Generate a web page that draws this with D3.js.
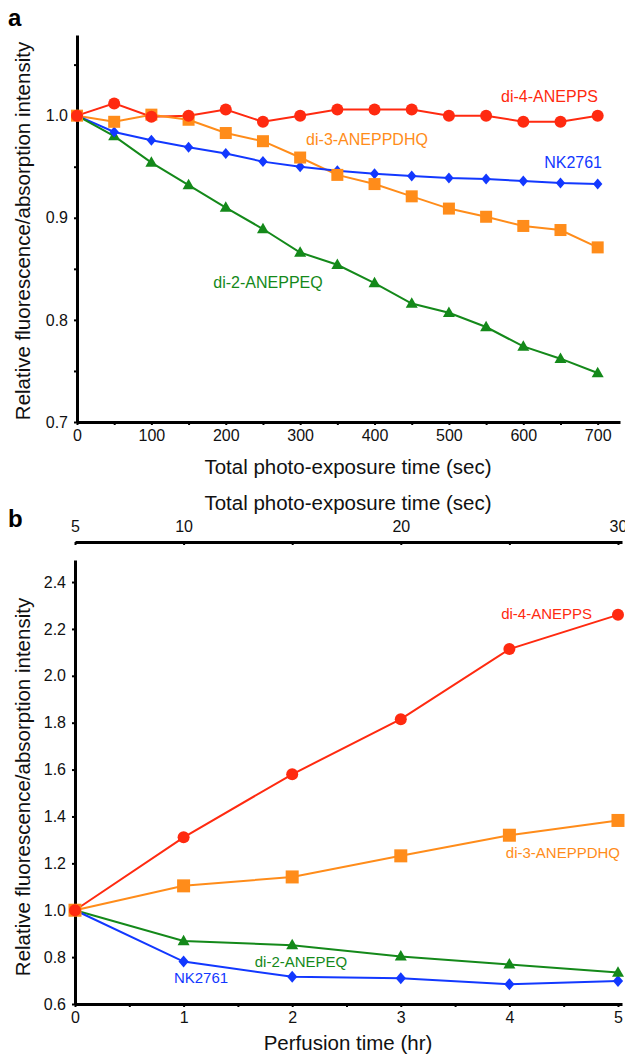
<!DOCTYPE html>
<html><head><meta charset="utf-8">
<script src="https://cdn.jsdelivr.net/npm/d3@7"></script>
<style>
body{margin:0;background:#fff;}
svg{display:block;font-family:"Liberation Sans",Arial,Helvetica,sans-serif;}
</style></head>
<body><svg id="c" width="625" height="1056"></svg>
<script>
// ---- Panel a data ----
const timeA = [0,50,100,150,200,250,300,350,400,450,500,550,600,650,700];
const a_di4 = [1.000,1.012,0.999,1.000,1.006,0.994,1.000,1.006,1.006,1.006,1.000,1.000,0.994,0.994,1.000];
const a_di3 = [1.000,0.994,1.001,0.996,0.983,0.975,0.959,0.942,0.933,0.921,0.909,0.901,0.892,0.888,0.871];
const a_nk  = [1.000,0.984,0.976,0.969,0.963,0.955,0.950,0.946,0.943,0.941,0.939,0.938,0.936,0.934,0.933];
const a_di2 = [1.000,0.980,0.954,0.932,0.910,0.889,0.866,0.854,0.836,0.816,0.807,0.793,0.774,0.762,0.748];
const aYTicks = [0.7,0.8,0.9,1.0];
const aXTicks = [0,100,200,300,400,500,600,700];

// ---- Panel b data ----
const timeB = [0,1,2,3,4,5];
const b_di4 = [1.000,1.311,1.580,1.815,2.114,2.260];
const b_di3 = [1.000,1.104,1.142,1.232,1.320,1.383];
const b_di2 = [1.000,0.869,0.851,0.803,0.769,0.734];
const b_nk  = [1.000,0.781,0.716,0.710,0.684,0.698];
const bYTicks = [0.6,0.8,1.0,1.2,1.4,1.6,1.8,2.0,2.2,2.4];
const bXTicks = [0,1,2,3,4,5];
const bTopTicks = [5,10,20,30];

const C = {red:"#ff2a10", orange:"#ff8c1a", blue:"#1238ff", green:"#14891a"};
const svg = d3.select("#c");

function styleAxis(g){
  g.select(".domain").attr("stroke","#000").attr("stroke-width",3);
  g.selectAll(".tick line").attr("stroke","#000").attr("stroke-width",2);
  g.selectAll(".tick text").attr("fill","#111").style("font-size","16px").style("font-family","'Liberation Sans',Arial,sans-serif");
}

function markers(g, pts, type, color, size){
  const sel = g.selectAll(null).data(pts).enter();
  if(type==="circle"){
    sel.append("circle").attr("cx",d=>d[0]).attr("cy",d=>d[1]).attr("r",size).attr("fill",color);
  } else if(type==="square"){
    sel.append("rect").attr("x",d=>d[0]-size).attr("y",d=>d[1]-size).attr("width",2*size).attr("height",2*size).attr("fill",color);
  } else if(type==="diamond"){
    sel.append("path").attr("d",d=>`M${d[0]},${d[1]-size}L${d[0]+size*0.85},${d[1]}L${d[0]},${d[1]+size}L${d[0]-size*0.85},${d[1]}Z`).attr("fill",color);
  } else if(type==="triangle"){
    sel.append("path").attr("d",d=>`M${d[0]},${d[1]-size*1.05}L${d[0]+size},${d[1]+size*0.7}L${d[0]-size},${d[1]+size*0.7}Z`).attr("fill",color);
  }
}

function series(g, xs, ys, x, y, color){
  const pts = xs.map((v,i)=>[x(v), y(ys[i])]);
  g.append("path").attr("d", d3.line()(pts)).attr("fill","none").attr("stroke",color).attr("stroke-width",2);
  return pts;
}

// ================= Panel a =================
{
  const x = d3.scaleLinear().domain([0,730]).range([77,620]);
  const y = d3.scaleLinear().domain([0.7,1.079]).range([422,35]);
  const g = svg.append("g");

  const yAx = g.append("g").attr("transform","translate(77,0)")
    .call(d3.axisLeft(y).tickValues(d3.range(0.7,1.0751,0.05)).tickSize(3).tickSizeOuter(0)
      .tickFormat(d=> aYTicks.some(t=>Math.abs(t-d)<1e-6) ? d3.format(".1f")(d) : ""));
  styleAxis(yAx); yAx.selectAll(".tick text").attr("x",-9);
  const xAx = g.append("g").attr("transform","translate(0,422)")
    .call(d3.axisBottom(x).tickValues(d3.range(0,701,50)).tickSize(3).tickSizeOuter(0)
      .tickFormat(d=> aXTicks.includes(d) ? d : ""));
  styleAxis(xAx); xAx.selectAll(".tick text").attr("y",8);

  const sets = [[a_di4,C.red,"circle",6],[a_di3,C.orange,"square",6],[a_nk,C.blue,"diamond",5.5],[a_di2,C.green,"triangle",6]];
  const allPts = sets.map(s=>series(g,timeA,s[0],x,y,s[1]));
  for(let i=sets.length-1;i>=0;i--) markers(g, allPts[i], sets[i][2], sets[i][1], sets[i][3]);

  const lab = (t,xx,yy,c,anchor)=>g.append("text").attr("x",xx).attr("y",yy).attr("fill",c).attr("text-anchor",anchor||"start").style("font-size","16px").text(t);
  lab("di-4-ANEPPS",598,102,C.red,"end");
  lab("di-3-ANEPPDHQ",367,145,C.orange,"middle");
  lab("NK2761",602,168,C.blue,"end");
  lab("di-2-ANEPPEQ",268,288,C.green,"middle");

  g.append("text").attr("x",348).attr("y",474).attr("text-anchor","middle").style("font-size","20.5px").attr("fill","#111").text("Total photo-exposure time (sec)");
  g.append("text").attr("transform","translate(30,231) rotate(-90)").attr("text-anchor","middle").style("font-size","20.5px").attr("fill","#111").text("Relative fluorescence/absorption intensity");
  g.append("text").attr("x",8).attr("y",26).style("font-size","24px").style("font-weight","bold").text("a");
}

// ================= Panel b =================
{
  const x = d3.scaleLinear().domain([0,5.037]).range([75,622]);
  const xt = d3.scaleLinear().domain([5,30.185]).range([75,622]);
  const y = d3.scaleLinear().domain([0.6,2.494]).range([1004,560]);
  const g = svg.append("g");

  const yAx = g.append("g").attr("transform","translate(75,0)")
    .call(d3.axisLeft(y).tickValues(bYTicks).tickSize(3).tickSizeOuter(0).tickFormat(d3.format(".1f")));
  styleAxis(yAx); yAx.selectAll(".tick text").attr("x",-9);
  const xAx = g.append("g").attr("transform","translate(0,1004)")
    .call(d3.axisBottom(x).tickValues(d3.range(0,5.01,0.5)).tickSize(3).tickSizeOuter(0)
      .tickFormat(d=> bXTicks.includes(d) ? d : ""));
  styleAxis(xAx); xAx.selectAll(".tick text").attr("y",8);
  const tAx = g.append("g").attr("transform","translate(0,542)")
    .call(d3.axisBottom(xt).tickValues([5,10,15,20,25,30]).tickSize(3).tickSizeOuter(0)
      .tickFormat(d=> bTopTicks.includes(d) ? d : ""));
  styleAxis(tAx); tAx.selectAll(".tick text").attr("y",-21);

  const sets = [[b_di4,C.red,"circle",6],[b_di3,C.orange,"square",6.5],[b_di2,C.green,"triangle",6],[b_nk,C.blue,"diamond",6]];
  const allPts = sets.map(s=>series(g,timeB,s[0],x,y,s[1]));
  for(let i=sets.length-1;i>=0;i--) markers(g, allPts[i], sets[i][2], sets[i][1], sets[i][3]);

  const lab = (t,xx,yy,c,anchor)=>g.append("text").attr("x",xx).attr("y",yy).attr("fill",c).attr("text-anchor",anchor||"start").style("font-size","15px").text(t);
  lab("di-4-ANEPPS",592,619,C.red,"end");
  lab("di-3-ANEPPDHQ",620,858,C.orange,"end");
  lab("di-2-ANEPEQ",301,967,C.green,"middle");
  lab("NK2761",201,983,C.blue,"middle");

  g.append("text").attr("x",348).attr("y",510).attr("text-anchor","middle").style("font-size","20.5px").attr("fill","#111").text("Total photo-exposure time (sec)");
  g.append("text").attr("x",348).attr("y",1050).attr("text-anchor","middle").style("font-size","20.5px").attr("fill","#111").text("Perfusion time (hr)");
  g.append("text").attr("transform","translate(30,787) rotate(-90)").attr("text-anchor","middle").style("font-size","20.5px").attr("fill","#111").text("Relative fluorescence/absorption intensity");
  g.append("text").attr("x",8).attr("y",527).style("font-size","24px").style("font-weight","bold").text("b");
}
</script></body></html>
